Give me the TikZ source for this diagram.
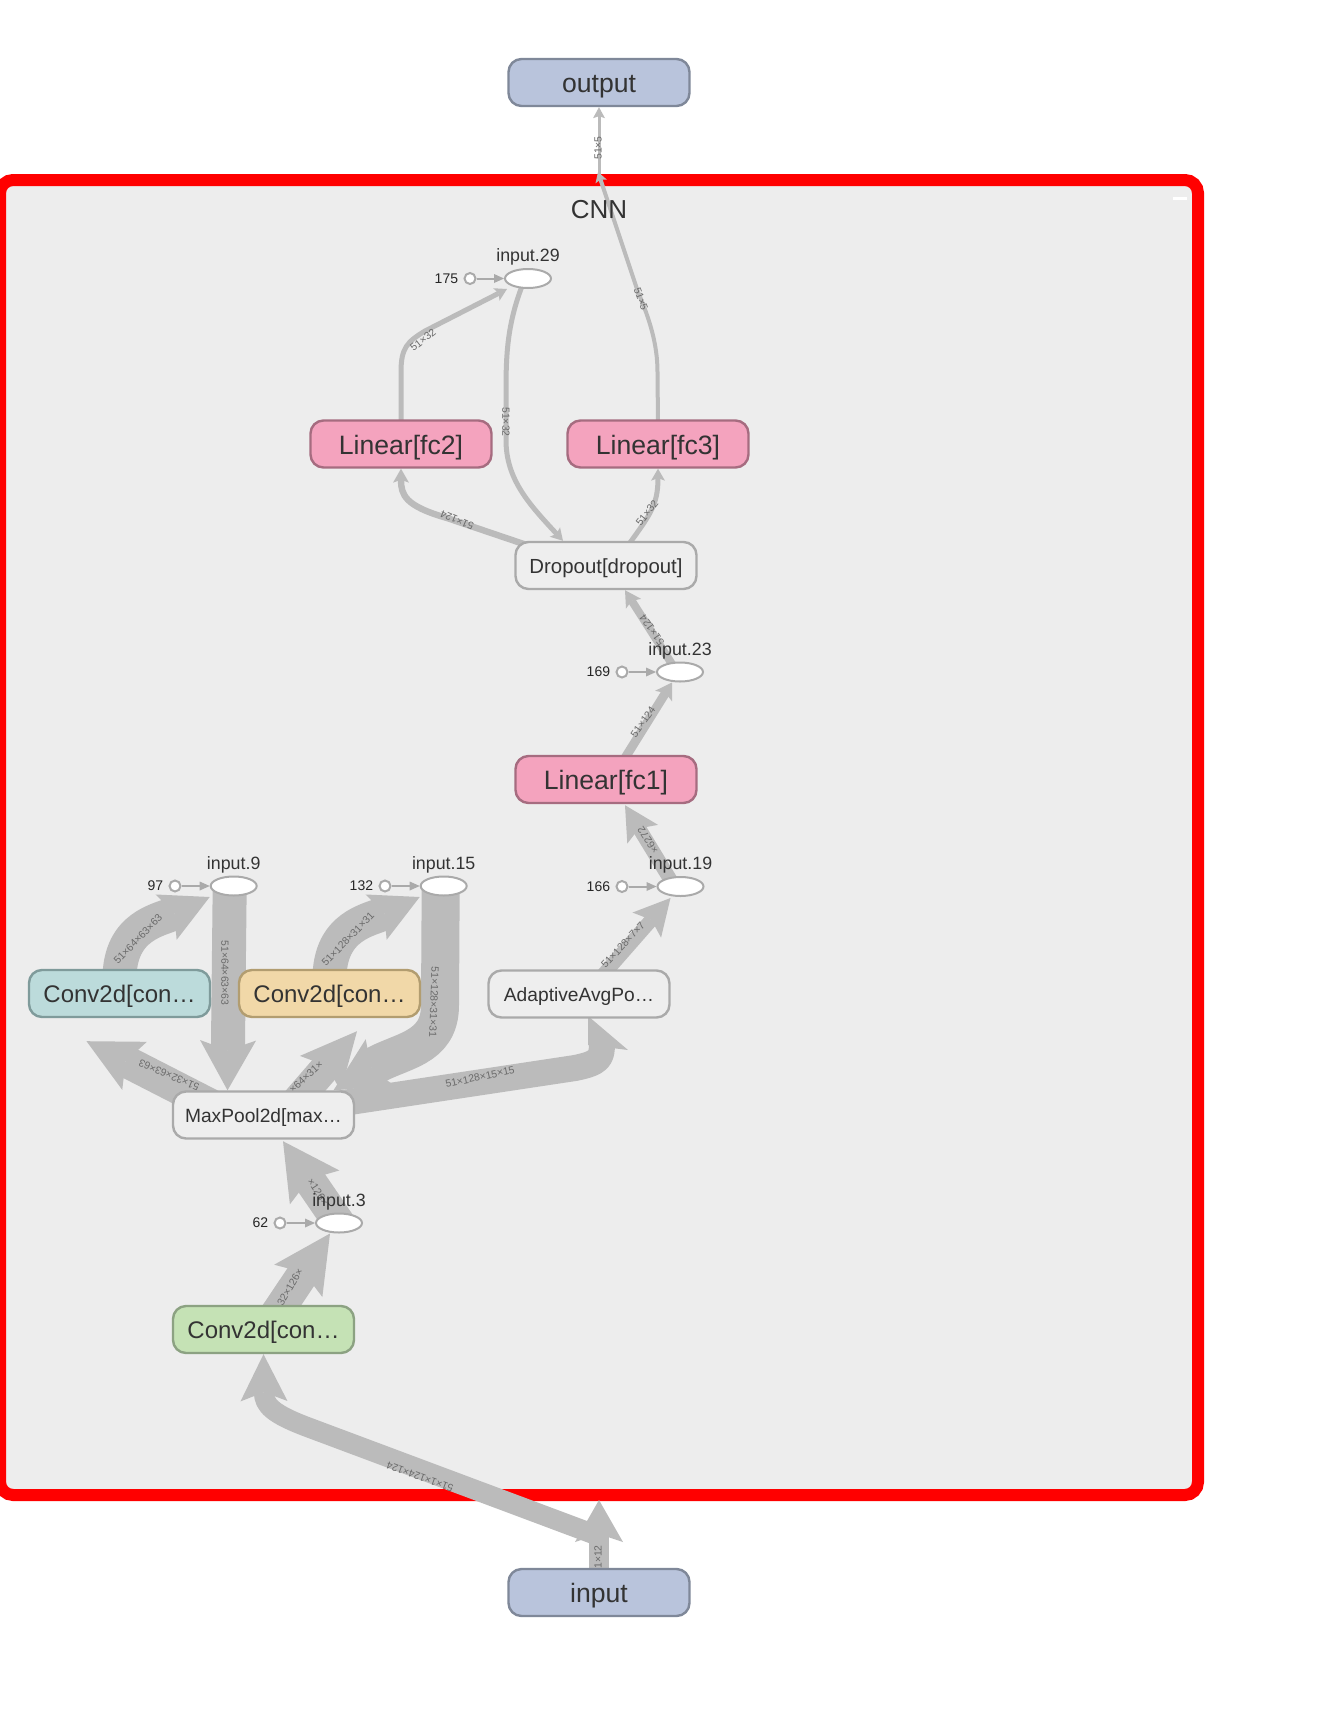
\documentclass[tikz,border=0pt]{standalone}
\usepackage{fontspec}
\setmainfont{Liberation Sans}
\usetikzlibrary{arrows.meta,shapes.geometric,calc}
\definecolor{frameFill}{HTML}{EDEDED}
\definecolor{edgeGray}{HTML}{BBBBBB}
\definecolor{ioFill}{HTML}{B9C4DC}
\definecolor{ioDraw}{HTML}{7F8899}
\definecolor{linFill}{HTML}{F4A3BE}
\definecolor{linDraw}{HTML}{A66C80}
\definecolor{gFill}{HTML}{EEEEEE}
\definecolor{gDraw}{HTML}{AAAAAA}
\definecolor{tealFill}{HTML}{BCDBDB}
\definecolor{tealDraw}{HTML}{7F9B9B}
\definecolor{tanFill}{HTML}{F1D8A8}
\definecolor{tanDraw}{HTML}{B29D70}
\definecolor{grnFill}{HTML}{C5E2B5}
\definecolor{grnDraw}{HTML}{8CA282}
\definecolor{ellDraw}{HTML}{AAAAAA}
\definecolor{txt}{HTML}{333333}
\definecolor{elab}{HTML}{6A6A6A}
\pgfdeclarelayer{framelayer}
\pgfdeclarelayer{edgelayer}
\pgfsetlayers{framelayer,edgelayer,main}
\tikzset{
  nbase/.style={rectangle, rounded corners=6.5pt, line width=1.2pt, inner sep=0pt, text=txt, minimum height=23.5pt, minimum width=90.5pt},
  io/.style={nbase, fill=ioFill, draw=ioDraw, font=\fontsize{13.3}{15}\selectfont, text height=12.5pt, text depth=2.5pt},
  lin/.style={nbase, fill=linFill, draw=linDraw, font=\fontsize{13.3}{15}\selectfont, text height=12.5pt, text depth=2.5pt},
  gnode/.style={nbase, fill=gFill, draw=gDraw, font=\fontsize{9.6}{11}\selectfont, text height=9.4pt, text depth=2pt},
  convt/.style={nbase, fill=tealFill, draw=tealDraw, font=\fontsize{12}{14}\selectfont, text height=11.2pt, text depth=2.5pt},
  convo/.style={nbase, fill=tanFill, draw=tanDraw, font=\fontsize{12}{14}\selectfont, text height=11.2pt, text depth=2.5pt},
  convg/.style={nbase, fill=grnFill, draw=grnDraw, font=\fontsize{12}{14}\selectfont, text height=11.2pt, text depth=2.5pt},
  opnode/.style={ellipse, fill=white, draw=ellDraw, line width=1pt, minimum width=23pt, minimum height=9.5pt, inner sep=0pt},
  oplabel/.style={font=\fontsize{8.9}{10}\selectfont, text=txt, inner sep=0pt},
  cnode/.style={circle, fill=white, draw=ellDraw, line width=1pt, minimum size=5.5pt, inner sep=0pt},
  numlabel/.style={font=\fontsize{7}{8}\selectfont, text=black!85, inner sep=0pt, anchor=east},
  smallarrow/.style={draw=ellDraw, line width=1pt, -{Triangle[length=5pt,width=4.5pt,line width=0pt]}},
  band/.style={draw=edgeGray, line cap=butt, line join=round},
  ar/.style n args={3}{-{Stealth[length=#1,width=#2,inset=#3,line width=0pt]}},
  elabel/.style={font=\fontsize{5.2}{6}\selectfont, text=elab, inner sep=0pt},
}
\begin{document}
\begin{tikzpicture}[x=0.5pt,y=-0.5pt]
\useasboundingbox (0,0) rectangle (1318,1735);
\begin{pgfonlayer}{framelayer}
  \clip (0,0) rectangle (1318,1735);
  \fill[white] (0,0) rectangle (1318,1735);
  \draw[draw=red, line width=6pt, fill=frameFill, rounded corners=6.5pt] (0,180) rectangle (1198,1495);
  \fill[white] (1173,196.5) rectangle (1187,199.5);
\end{pgfonlayer}
\node[font=\fontsize{13}{15}\selectfont, text=txt, inner sep=0pt] (cnn) at (599,210) {CNN};

% main nodes
\node[io] (output) at (599,82.5) {output};
\node[io] (input) at (599,1592.5) {input};
\node[lin] (fc2) at (401,444) {Linear[fc2]};
\node[lin] (fc3) at (658,444) {Linear[fc3]};
\node[gnode, font=\fontsize{10.2}{12}\selectfont, text height=9.9pt, text depth=2.2pt] (dropout) at (606,565.5) {Dropout[dropout]};
\node[lin] (fc1) at (606,779.5) {Linear[fc1]};
\node[gnode] (avgpool) at (579,994) {AdaptiveAvgPo…};
\node[convt] (conv2) at (119.5,993.5) {Conv2d[con…};
\node[convo] (conv3) at (329.5,993.5) {Conv2d[con…};
\node[gnode] (maxpool) at (263.5,1115) {MaxPool2d[max…};
\node[convg] (conv1) at (263.5,1329.5) {Conv2d[con…};

% op nodes
\node[opnode] (i29) at (528,278.5) {};
\node[opnode] (i23) at (680,672) {};
\node[opnode] (i19) at (680.5,886.5) {};
\node[opnode] (i9) at (233.7,886) {};
\node[opnode] (i15) at (443.7,886) {};
\node[opnode] (i3) at (339,1223) {};
\node[oplabel] (t29) at (528,257) {input.29};
\node[oplabel] (t23) at (680,650.5) {input.23};
\node[oplabel] (t19) at (680.5,865) {input.19};
\node[oplabel] (t9) at (233.7,864.5) {input.9};
\node[oplabel] (t15) at (443.7,864.5) {input.15};
\node[oplabel] (t3) at (339,1201.5) {input.3};
% constant inputs
\node[cnode] (c29) at (470,278.5) {};
\node[cnode] (c23) at (622,672) {};
\node[cnode] (c19) at (622,886.5) {};
\node[cnode] (c9) at (175,886) {};
\node[cnode] (c15) at (385,886) {};
\node[cnode] (c3) at (280,1223) {};
\node[numlabel] (n29) at ($(c29.west)+(-5,0)$) {175};
\node[numlabel] (n23) at ($(c23.west)+(-5,0)$) {169};
\node[numlabel] (n19) at ($(c19.west)+(-5,0)$) {166};
\node[numlabel] (n9) at ($(c9.west)+(-5,0)$) {97};
\node[numlabel] (n15) at ($(c15.west)+(-5,0)$) {132};
\node[numlabel] (n3) at ($(c3.west)+(-5,0)$) {62};

\coordinate (cin) at (599,1500);
\coordinate (cin2) at (596,1535);
\coordinate (cout) at (598,172);
\coordinate (cout2) at (599,180);

\begin{pgfonlayer}{edgelayer}
  \draw[smallarrow] (c29) -- (i29.west);
  \draw[smallarrow] (c23) -- (i23.west);
  \draw[smallarrow] (c19) -- (i19.west);
  \draw[smallarrow] (c9) -- (i9.west);
  \draw[smallarrow] (c15) -- (i15.west);
  \draw[smallarrow] (c3) -- (i3.west);

  % input -> CNN
  \draw[band, line width=10pt, ar={21pt}{24pt}{4pt}] ($(input.north)+(0,8)$) -- (cin);
  \draw[band, line width=10pt, ar={23.5pt}{23.5pt}{4.5pt}] (cin2) -- (310,1428) .. controls (272,1414) and (264,1405) .. (conv1.south);
  % conv1 -> input.3
  \draw[band, line width=16pt, ar={28.5pt}{29pt}{5pt}] ($(conv1.north)+(12,10)$) -- ($(i3.south)+(-9,0)$);
  % input.3 -> maxpool
  \draw[band, line width=16pt, ar={28pt}{30pt}{5pt}] (i3.center) -- ($(maxpool.south)+(19.5,1.5)$);
  % maxpool -> conv2
  \draw[band, line width=16pt, ar={27pt}{27pt}{5pt}] ($(maxpool.north)+(-50,16)$) -- ($(conv2.south)+(-33,23)$);
  % input.9 -> maxpool
  \draw[band, line width=17pt, ar={25pt}{28pt}{5pt}] ($(i9.center)+(-4,0)$) -- ($(maxpool.north)+(-36,0)$);
  % conv2 -> input.9
  \draw[band, line width=17pt, ar={24pt}{25pt}{4.5pt}] ($(conv2.north)+(0,10)$) .. controls (119.5,925) and (160,920) .. ($(i9.west)+(0,11)$);
  % maxpool -> conv3
  \draw[band, line width=15pt, ar={28pt}{27pt}{5pt}] ($(maxpool.north)+(32,12)$) -- ($(conv3.south)+(27.5,13)$);
  % conv3 -> input.15
  \draw[band, line width=17pt, ar={24pt}{25pt}{4.5pt}] ($(conv3.north)+(0,10)$) .. controls (329.5,925) and (370,920) .. ($(i15.west)+(0,11)$);
  % input.15 -> maxpool
  \draw[band, line width=19pt, ar={27pt}{27pt}{5pt}] ($(i15.center)+(-3,0)$) -- (440,1005) .. controls (440,1050) and (400,1050) .. ($(maxpool.north)+(70,0)$);
  % maxpool -> avgpool
  \draw[band, line width=13pt] (maxpool.center) -- (575,1068) .. controls (600,1063) and (602,1058) .. (602,1043);
  \fill[edgeGray] (588,1016) -- (628,1050) -- (588,1045) -- cycle;
  % avgpool -> input.19
  \draw[band, line width=7pt, ar={18pt}{19pt}{3.5pt}] ($(avgpool.north)+(22,8)$) -- ($(i19.south)+(-10,1)$);
  % input.19 -> fc1
  \draw[band, line width=7pt, ar={17pt}{18pt}{3.5pt}] ($(i19.center)+(-6,0)$) -- ($(fc1.south)+(19,1)$);
  % fc1 -> input.23
  \draw[band, line width=4.5pt, ar={8pt}{10pt}{1.8pt}] ($(fc1.north)+(16,8)$) -- ($(i23.south)+(-8,0)$);
  % input.23 -> dropout
  \draw[band, line width=4pt, ar={8pt}{9pt}{1.7pt}] ($(i23.center)+(-3,0)$) -- ($(dropout.south)+(19,0)$);
  % dropout -> fc2
  \draw[band, line width=3.2pt, ar={7pt}{8pt}{1.5pt}] ($(dropout.north)+(-74,6)$) -- (447,518) .. controls (405,506) and (401,495) .. (fc2.south);
  % dropout -> fc3
  \draw[band, line width=2.5pt, ar={6pt}{7pt}{1.3pt}] ($(dropout.north)+(21,6)$) .. controls (650,515) and (658,505) .. (fc3.south);
  % fc2 -> input.29
  \draw[band, line width=2.5pt, ar={6pt}{7pt}{1.3pt}] ($(fc2.north)+(0,5)$) -- (401,372) .. controls (401,348) and (407,342) .. (425,331) -- ($(i29.west)+(3,10.5)$);
  % input.29 -> dropout
  \draw[band, line width=2.5pt, ar={6pt}{7pt}{1.3pt}] ($(i29.center)+(-3,0)$) .. controls (508,320) and (506,350) .. (506,390) -- (506,440) .. controls (506,480) and (530,505) .. ($(dropout.north)+(-43,0)$);
  % fc3 -> output (inside)
  \draw[band, line width=2pt, ar={5pt}{6pt}{1pt}] ($(fc3.north)+(0,5)$) -- (657.5,372) .. controls (657.5,345) and (650,320) .. (638,292) -- (cout);
  % CNN -> output
  \draw[band, line width=1.5pt, ar={5.5pt}{6pt}{1pt}] (cout2) -- (output.south);

  % edge labels
  \node[elabel, rotate=90] (l1) at (598,1557) {1×12};
  \node[elabel, rotate=160] (l2) at (420,1477) {51×1×124×124};
  \node[elabel, rotate=60] (l3) at (290,1287) {32×126×};
  \node[elabel, rotate=-57] (l4) at (318,1192) {×126×};
  \node[elabel, rotate=157] (l5) at (169,1075) {51×32×63×63};
  \node[elabel, rotate=-90] (l6) at (225,973) {51×64×63×63};
  \node[elabel, rotate=46] (l7) at (138,939) {51×64×63×63};
  \node[elabel, rotate=42] (l8) at (306,1077) {×64×31×};
  \node[elabel, rotate=46] (l9) at (348,939) {51×128×31×31};
  \node[elabel, rotate=-92] (l10) at (434,1002) {51×128×31×31};
  \node[elabel, rotate=12] (l11) at (480,1077) {51×128×15×15};
  \node[elabel, rotate=47] (l12) at (623,945) {51×128×7×7};
  \node[elabel, rotate=124] (l13) at (648,840) {×6272};
  \node[elabel, rotate=55] (l14) at (643,722) {51×124};
  \node[elabel, rotate=125] (l15) at (652,630) {51×124};
  \node[elabel, rotate=157] (l16) at (457,520) {51×124};
  \node[elabel, rotate=52] (l17) at (647,513) {51×32};
  \node[elabel, rotate=38] (l18) at (423,340) {51×32};
  \node[elabel, rotate=-90] (l19) at (506,422) {51×32};
  \node[elabel, rotate=-70] (l20) at (641,299) {51×5};
  \node[elabel, rotate=90] (l21) at (598,148) {51×5};
\end{pgfonlayer}
\end{tikzpicture}
\end{document}
